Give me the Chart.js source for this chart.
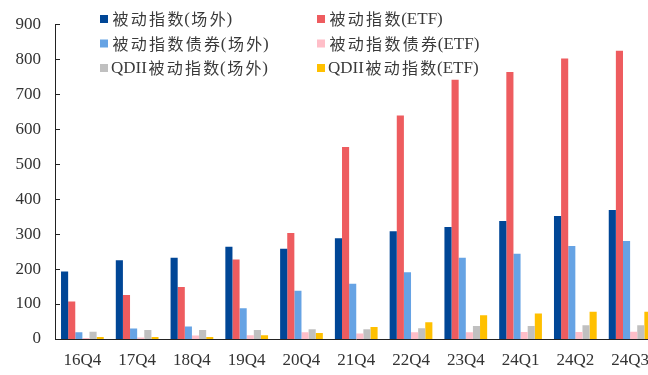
<!DOCTYPE html>
<html lang="zh">
  <head>
    <meta charset="utf-8" />
    <title>被动指数规模</title>
    <style>
      * { margin: 0; padding: 0; }
      body { background: #fff; overflow: hidden; }
      .chartBox { width: 648px; height: 375px; overflow: hidden; }
    </style>
  </head>
  <body>
    <div class="chartBox">
      <canvas id="myChart" width="660" height="375"></canvas>
    </div>

    <script src="https://cdn.jsdelivr.net/npm/chart.js"></script>

    <script>
      const quarters = ["16Q4", "17Q4", "18Q4", "19Q4", "20Q4", "21Q4", "22Q4", "23Q4", "24Q1", "24Q2", "24Q3"];
      const indexOtc = [193, 225, 232, 264, 258, 288, 308, 320, 337, 352, 369];
      const indexEtf = [107, 126, 149, 227, 303, 549, 639, 741, 763, 802, 824];
      const bondOtc = [19, 30, 36, 88, 138, 158, 191, 232, 244, 266, 280];
      const bondEtf = [3, 4, 10, 11, 19, 16, 19, 19, 20, 20, 21];
      const qdiiOtc = [21, 26, 26, 26, 28, 28, 31, 37, 37, 39, 39];
      const qdiiEtf = [6, 6, 6, 11, 17, 34, 48, 68, 73, 78, 78];
      const yTicks = [0, 100, 200, 300, 400, 500, 600, 700, 800, 900];

      const seriesNames = [
        "被动指数(场外)", "被动指数(ETF)",
        "被动指数债券(场外)", "被动指数债券(ETF)",
        "QDII被动指数(场外)", "QDII被动指数(ETF)",
      ];
      const seriesValues = [indexOtc, indexEtf, bondOtc, bondEtf, qdiiOtc, qdiiEtf];
      const seriesColors = [
        "rgb(0, 70, 150)", "rgb(238, 92, 95)",
        "rgb(102, 163, 228)", "rgb(255, 190, 200)",
        "rgb(192, 192, 192)", "rgb(255, 192, 0)",
      ];

      const latinFont = "17px 'Liberation Serif', serif";
      const cjkFont = "16px 'Noto Sans CJK SC', sans-serif";
      const cjkAdvance = 18.3;

      // draws mixed text char by char: wide spaced CJK, serif latin
      function drawMixed(ctx, text, x, y) {
        for (const ch of text) {
          if (/[\u4e00-\u9fff]/.test(ch)) {
            ctx.font = cjkFont;
            ctx.fillText(ch, x + 1.5, y);
            x += cjkAdvance;
          } else {
            ctx.font = latinFont;
            ctx.fillText(ch, x, y + 1);
            x += ctx.measureText(ch).width;
          }
        }
      }

      // legend in two columns, drawn inside the plot
      const gridLegend = {
        id: "gridLegend",
        afterDraw(chart) {
          const { ctx } = chart;
          ctx.save();
          ctx.textBaseline = "middle";
          ctx.textAlign = "left";
          chart.data.datasets.forEach((ds, i) => {
            const col = i % 2;
            const row = Math.floor(i / 2);
            const x = col === 0 ? 100 : 317;
            const y = 19 + row * 24.5;
            ctx.fillStyle = ds.backgroundColor;
            ctx.fillRect(x, y - 4, 8, 8);
            ctx.fillStyle = "#3a3a3a";
            drawMixed(ctx, ds.label, x + 11, y);
          });
          ctx.restore();
        },
      };

      // small tick marks on the inside of the y axis
      const innerTicks = {
        id: "innerTicks",
        afterDatasetsDraw(chart) {
          const { ctx, chartArea: { left }, scales: { y } } = chart;
          ctx.save();
          ctx.strokeStyle = "#222";
          ctx.lineWidth = 1;
          y.ticks.forEach((t) => {
            const py = Math.round(y.getPixelForValue(t.value)) + 0.5;
            ctx.beginPath();
            ctx.moveTo(left, py);
            ctx.lineTo(left + 5, py);
            ctx.stroke();
          });
          ctx.restore();
        },
      };

      const config = {
        type: "bar",
        data: {
          labels: quarters,
          datasets: seriesValues.map((vals, i) => ({
            label: seriesNames[i],
            data: vals,
            backgroundColor: seriesColors[i],
            borderWidth: 0,
            barPercentage: 1,
            categoryPercentage: 0.78,
          })),
        },
        options: {
          responsive: false,
          animation: false,
          layout: { padding: { top: 19, right: 0, left: 0, bottom: 0 } },
          plugins: {
            legend: { display: false },
            tooltip: { enabled: false },
          },
          scales: {
            x: {
              grid: { display: false, drawTicks: false },
              border: { color: "#222", width: 1 },
              ticks: {
                color: "#333",
                font: { family: "'Liberation Serif', serif", size: 17 },
                padding: 11,
                maxRotation: 0,
                autoSkip: false,
              },
              afterFit(scale) { scale.height = 36; },
            },
            y: {
              min: 0,
              max: 900,
              afterBuildTicks(scale) {
                scale.ticks = yTicks.map((v) => ({ value: v }));
              },
              grid: { display: false, drawTicks: false },
              border: { color: "#222", width: 1 },
              ticks: {
                color: "#333",
                font: { family: "'Liberation Serif', serif", size: 17 },
                padding: 14,
              },
              afterFit(scale) { scale.width = 55; },
            },
          },
        },
        plugins: [gridLegend, innerTicks],
      };

      const myChart = new Chart(document.getElementById("myChart"), config);
    </script>
  </body>
</html>
